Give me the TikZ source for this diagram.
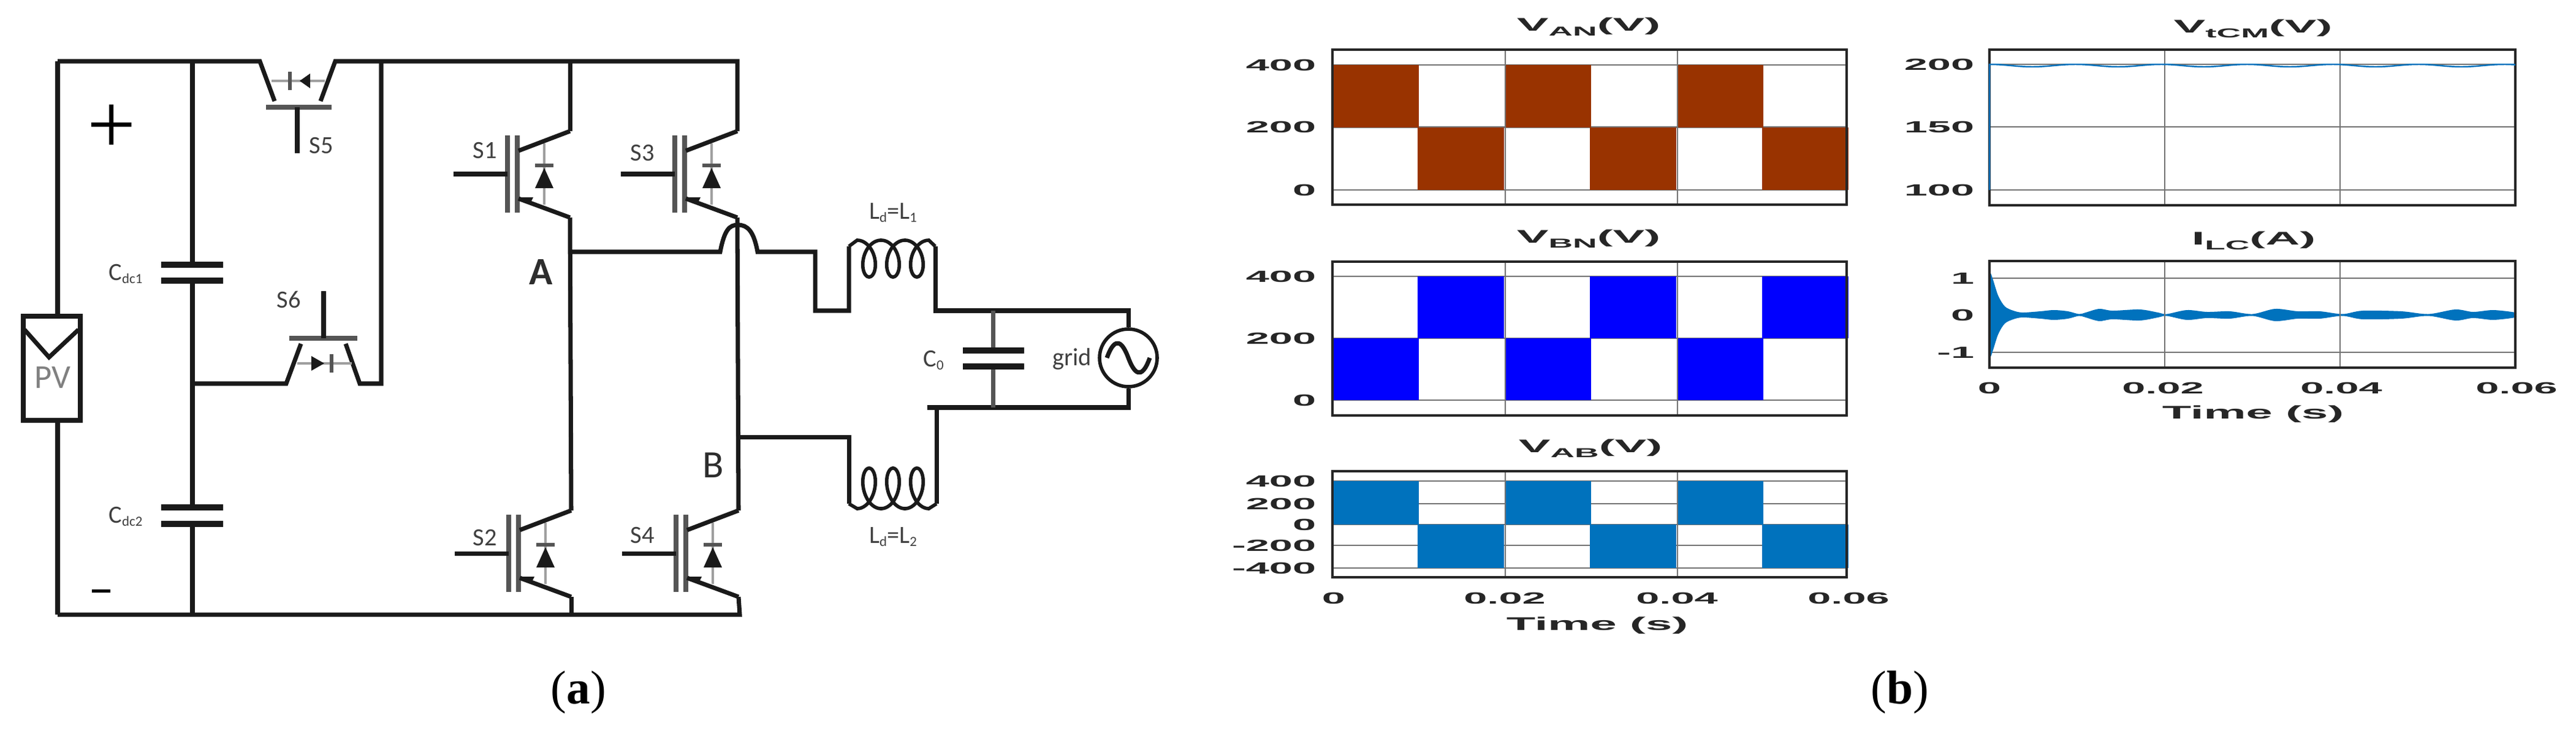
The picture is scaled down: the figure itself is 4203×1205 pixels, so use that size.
\documentclass[tikz,border=0pt]{standalone}
\usepackage{fontspec}
\setmainfont{Liberation Serif}
\setsansfont{Liberation Sans}
\newfontfamily\circfont{Carlito}
\definecolor{wirecol}{HTML}{1A1A1A}
\definecolor{bargray}{HTML}{555555}
\definecolor{labcol}{HTML}{404040}
\definecolor{anwave}{HTML}{993300}
\definecolor{bnwave}{HTML}{0000FF}
\definecolor{abwave}{HTML}{0072BD}
\definecolor{plotink}{HTML}{262626}
\newcommand{\lowtext}[1]{\raisebox{-2.2pt}{\fontsize{6}{6}\selectfont #1}}
\newcommand{\lowcirc}[1]{\raisebox{-1.5pt}{\fontsize{6.5}{6.5}\selectfont #1}}
\tikzset{
	wire/.style={line width=2pt,draw=wirecol},
	coilwire/.style={line width=1.6pt,draw=wirecol},
	bar/.style={line width=2.4pt,draw=bargray},
	diodeline/.style={line width=1.3pt,draw=gray!75},
	diodebar/.style={line width=1.9pt,draw=bargray},
	capplate/.style={line width=2.6pt,draw=wirecol},
	circlab/.style={font=\circfont\fontsize{11.5}{12}\selectfont,text=labcol,inner sep=0pt},
	nodelab/.style={font=\circfont\fontsize{18}{18}\selectfont,text=labcol!70!black,inner sep=0pt},
	ticklab/.style={font=\sffamily\bfseries\fontsize{7.5}{8}\selectfont,text=plotink,xscale=2.6,inner sep=0pt},
	titlelab/.style={font=\sffamily\bfseries\fontsize{8.5}{9}\selectfont,text=plotink,xscale=2.6,inner sep=0pt},
	gridline/.style={line width=0.7pt,draw=black!55},
	plotframe/.style={line width=1pt,draw=plotink},
	panellab/.style={font=\fontsize{22}{22}\selectfont,inner sep=0pt},
	igbt/.pic={
		\draw[bar] (0,-63) -- (0,63);
		\draw[bar] (16,-63) -- (16,63);
		\draw[wire] (-88,0) coordinate (-g) -- (0,0);
		\draw[diodeline] (60,-50) -- (60,50);
		\draw[diodebar] (45,-14) -- (75,-14);
		\fill[wirecol] (60,-10) -- (75,23) -- (45,23) -- cycle;
		\draw[wire] (18,-38) -- (102,-70) coordinate (-c);
		\draw[wire] (18,40) -- (102,71) coordinate (-e);
		\fill[wirecol] (20,38) -- (42,38) -- (36,50) -- cycle;
	}
}
\begin{document}
\begin{tikzpicture}[x=0.1mm,y=-0.1mm]
	\useasboundingbox (0,0) rectangle (4203,1205);
	% circuit, points of the rails
	\path (94,100) coordinate (TL)
	(94,1003) coordinate (BL)
	(314,100) coordinate (capT)
	(314,1003) coordinate (capB)
	(314,626) coordinate (capM)
	(622,100) coordinate (busT)
	(622,626) coordinate (busM);
	\pic (S1) at (828,284) {igbt};
	\pic (S2) at (830,903) {igbt};
	\pic (S3) at (1101,284) {igbt};
	\pic (S4) at (1103,903) {igbt};
	\node[draw=wirecol,line width=2pt,minimum width=9.3mm,minimum height=17mm,inner sep=0pt] (pvbox) at (84.5,601) {};
	\draw[wire] (40,538) -- (80,583) -- (128,538);
	\node[font=\circfont\fontsize{15.5}{16}\selectfont,text=gray,inner sep=0pt] (pvlab) at (86,616) {PV};
	\draw[wire] (TL) -- (94,516);
	\draw[wire] (94,686) -- (BL);
	\draw[wire] (TL) -- (424,100) -- (448,165);
	\draw[wire] (523,165) -- (547,100) -- (S3-c |- TL) -- (S3-c);
	\draw[wire] (S1-c) -- (S1-c |- TL);
	\draw[wire] (BL) -- (1207,1003) -- (S4-e);
	\draw[wire] (S2-e) -- (S2-e |- BL);
	\draw[wire] (S1-e) -- (S2-c);
	\draw[wire] (S3-e) -- (S4-c);
	% dc link capacitors
	\draw[wire] (capT) -- (314,432);
	\draw[wire] (314,458) -- (314,828);
	\draw[wire] (314,855) -- (capB);
	\draw[capplate] (263,432) -- (364,432);
	\draw[capplate] (263,458) -- (364,458);
	\draw[capplate] (263,828) -- (364,828);
	\draw[capplate] (263,855) -- (364,855);
	% clamp switches
	\draw[wire] (busT) -- (busM) -- (587,626) -- (564,561);
	\draw[wire] (capM) -- (467,626) -- (491,561);
	\draw[bar] (434,175) -- (541,175);
	\draw[wire] (485,175) -- (485,250);
	\draw[diodeline] (443,132) -- (530,132);
	\draw[diodebar] (473,117) -- (473,147);
	\fill[wirecol] (489,132) -- (506,120) -- (506,144) -- cycle;
	\draw[bar] (472,552) -- (583,552);
	\draw[wire] (528,552) -- (528,475);
	\draw[diodeline] (485,593) -- (574,593);
	\draw[diodebar] (541,578) -- (541,608);
	\fill[wirecol] (529,593) -- (508,581) -- (508,605) -- cycle;
	% output side
	\path (932,411) coordinate (nodeA)
	(1204,713) coordinate (nodeB)
	(1620,507) coordinate (filtT)
	(1620,665) coordinate (filtB);
	\node[draw=wirecol,circle,line width=1.6pt,minimum size=9.4mm,inner sep=0pt] (grid) at (1841,584) {};
	\draw[wire] (nodeA) -- (1175,411) .. controls (1182,375) and (1190,367) .. (1204,367) .. controls (1220,367) and (1230,378) .. (1236,411) -- (1330,411) -- (1330,507) -- (1385,507) -- (1385,402);
	\draw[coilwire] (1385,402)
	-- plot[domain=0:1080,samples=200,variable=\t] ({1398.5+0.1083*\t+19*sin(\t)},{422-30*cos(\t)})
	-- (1526,402);
	\draw[wire] (1526,402) -- (1526,507) -- (1841,507) -- (grid.north);
	\draw[wire] (nodeB) -- (1385,713) -- (1385,822);
	\draw[coilwire] (1385,822)
	-- plot[domain=0:1080,samples=200,variable=\t] ({1398.5+0.1083*\t+19*sin(\t)},{797+33*cos(\t)})
	-- (1528,822);
	\draw[wire] (1528,822) -- (1528,665);
	\draw[wire] (1513,665) -- (1841,665) -- (grid.south);
	\draw[wire,draw=bargray] (filtT) -- (1620,572);
	\draw[wire,draw=bargray] (1620,598) -- (filtB);
	\draw[capplate] (1571,572) -- (1671,572);
	\draw[capplate] (1571,598) -- (1671,598);
	\draw[wire] (1806,584) .. controls (1820,545) and (1832,560) .. (1841,584) .. controls (1850,608) and (1862,623) .. (1876,584);
	% circuit labels
	\node[font=\fontsize{40}{40}\selectfont,inner sep=0pt] (plus) at (182,211) {+};
	\node[font=\circfont\fontsize{24}{24}\selectfont,inner sep=0pt] (minus) at (166,975) {–};
	\node[circlab] (cdc1) at (205,447) {C\lowcirc{dc1}};
	\node[circlab] (cdc2) at (205,843) {C\lowcirc{dc2}};
	\node[circlab] (lS1) at (791,246) {S1};
	\node[circlab] (lS2) at (791,878) {S2};
	\node[circlab] (lS3) at (1048,250) {S3};
	\node[circlab] (lS4) at (1048,874) {S4};
	\node[circlab] (lS5) at (524,238) {S5};
	\node[circlab] (lS6) at (471,489) {S6};
	\node[nodelab,font=\circfont\bfseries\fontsize{18}{18}\selectfont] (lA) at (883,444) {A};
	\node[nodelab] (lB) at (1164,759) {B};
	\node[circlab] (lL1) at (1457,347) {L\lowcirc{d}=L\lowcirc{1}};
	\node[circlab] (lL2) at (1457,876) {L\lowcirc{d}=L\lowcirc{2}};
	\node[circlab] (lC0) at (1523,588) {C\lowcirc{0}};
	\node[circlab] (lgrid) at (1749,586) {grid};
	\node[panellab] (capa) at (944,1130) {(\textbf{a})};
	\node[panellab] (capb) at (3100,1130) {(\textbf{b})};
	% left plots, grid first and traces over it
	\foreach \yy/\lab in {106/400,207.5/200,310/0} {
		\draw[gridline] (2174,\yy) -- (3013,\yy);
		\node[ticklab,anchor=east] (an\lab) at (2149,\yy) {\lab};
	}
	\foreach \yy/\lab in {451/400,552/200,653/0} {
		\draw[gridline] (2174,\yy) -- (3013,\yy);
		\node[ticklab,anchor=east] (bn\lab) at (2149,\yy) {\lab};
	}
	\foreach \yy/\lab in {785/400,822/200,856/0,890/-200,927/-400} {
		\draw[gridline] (2174,\yy) -- (3013,\yy);
		\node[ticklab,anchor=east] (ab\lab) at (2149,\yy) {\lab};
	}
	\foreach \x in {2174,2455,2736} {
		\fill[anwave] (\x,106) rectangle (\x+141,207.5);
		\fill[anwave] (\x+139,207.5) rectangle (\x+280,310);
		\fill[bnwave] (\x,552) rectangle (\x+141,653);
		\fill[bnwave] (\x+139,451) rectangle (\x+280,552);
		\fill[abwave] (\x,785) rectangle (\x+141,856);
		\fill[abwave] (\x+139,856) rectangle (\x+280,927);
	}
	\foreach \ya/\yb in {81/334,427/678,769/942} {
		\foreach \x in {2456,2737} \draw[gridline] (\x,\ya) -- (\x,\yb);
		\draw[plotframe] (2174,\ya) rectangle (3013,\yb);
	}
	\foreach \x/\lab in {2176/0,2455/0.02,2736/0.04,3016/0.06} \node[ticklab] (xl\lab) at (\x,976) {\lab};
	\node[titlelab] (tan) at (2592,44) {V\lowtext{AN}(V)};
	\node[titlelab] (tbn) at (2592,390) {V\lowtext{BN}(V)};
	\node[titlelab] (tab) at (2595,732) {V\lowtext{AB}(V)};
	\node[titlelab] (tleft) at (2606,1021) {Time (s)};
	% right plots
	\foreach \yy/\lab in {105/200,207/150,310/100} {
		\draw[gridline] (3246,\yy) -- (4104,\yy);
		\node[ticklab,anchor=east] (cm\lab) at (3223,\yy) {\lab};
	}
	\foreach \yy/\lab in {454/1,514/0,575/-1} {
		\draw[gridline] (3246,\yy) -- (4104,\yy);
		\node[ticklab,anchor=east] (lc\lab) at (3223,\yy) {\lab};
	}
	\foreach \s in {-1,1}
	\fill[abwave,shift={(0,514)},yscale=\s] plot[smooth] coordinates {(3246,0) (3246,70) (3260,32) (3271,14) (3285,7) (3300,4) (3329,6) (3351,8) (3374,6) (3392,1.5) (3403,4) (3425,10) (3447,7) (3491,9) (3521,4) (3535,1.5) (3568,8) (3601,5) (3638,6) (3675,1.5) (3712,10) (3749,6) (3785,6) (3822,1.5) (3855,7) (3918,6) (3962,1.5) (4006,9) (4035,5) (4068,8) (4104,4) (4104,0)};
	\foreach \ya/\yb in {81/335,426/600} {
		\foreach \x in {3532,3818} \draw[gridline] (\x,\ya) -- (\x,\yb);
		\draw[plotframe] (3246,\ya) rectangle (4104,\yb);
	}
	\draw[line width=0.7pt,draw=abwave] (3246,310) -- (3246,107)
	-- plot[domain=3246:4104,samples=160] (\x,{107-2*cos(2.5714*(\x-3246))});
	\foreach \x/\lab in {3246/0,3529/0.02,3820/0.04,4106/0.06} \node[ticklab] (xr\lab) at (\x,633) {\lab};
	\node[titlelab] (tcm) at (3676,47) {V\lowtext{tCM}(V)};
	\node[titlelab] (tlc) at (3677,393) {I\lowtext{LC}(A)};
	\node[titlelab] (tright) at (3676,676) {Time (s)};
\end{tikzpicture}
\end{document}
